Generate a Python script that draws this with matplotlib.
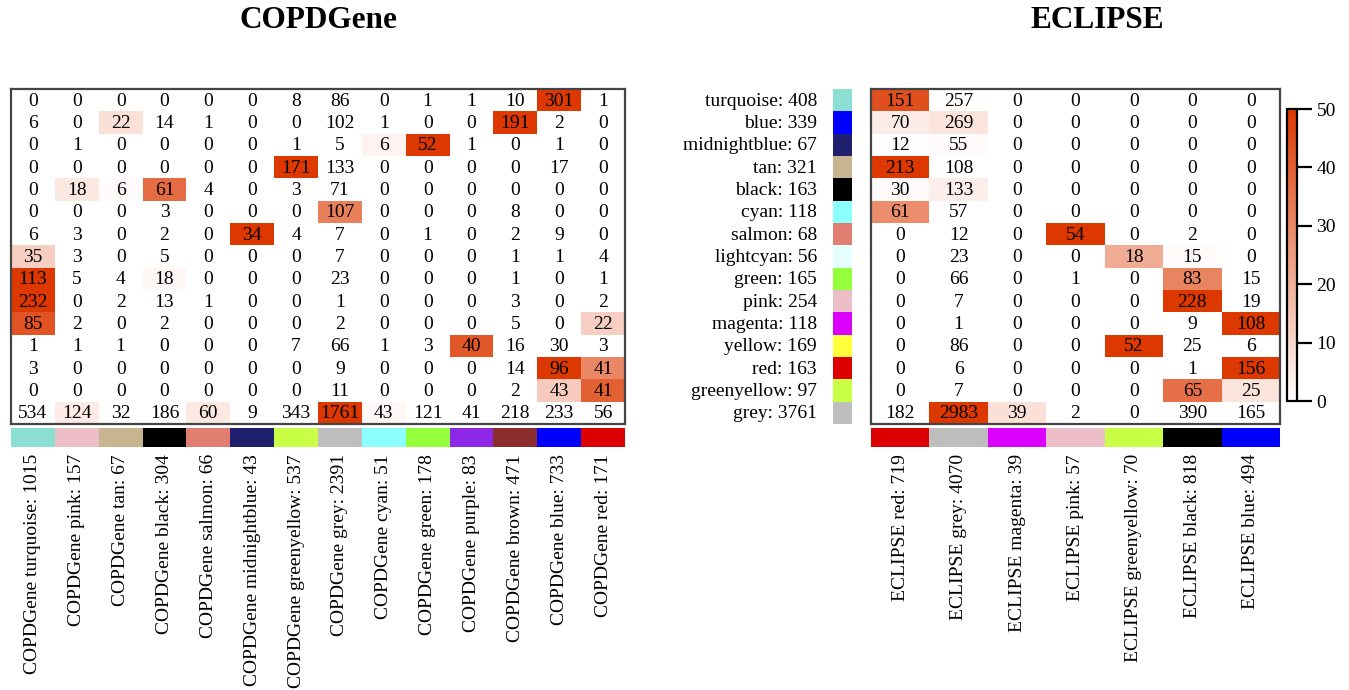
import numpy as np
import matplotlib
matplotlib.use("Agg")
import matplotlib.pyplot as plt
from matplotlib.colors import LinearSegmentedColormap, ListedColormap

plt.rcParams['font.family'] = ['Liberation Serif', 'DejaVu Serif']

# ECLIPSE modules (rows) with sizes and display colours
row_labels = ["turquoise: 408", "blue: 339", "midnightblue: 67", "tan: 321", "black: 163",
              "cyan: 118", "salmon: 68", "lightcyan: 56", "green: 165", "pink: 254",
              "magenta: 118", "yellow: 169", "red: 163", "greenyellow: 97", "grey: 3761"]
row_colors = ["#8ADFD2", "#0000FF", "#201E6E", "#C8B48E", "#000000",
              "#8CFFFF", "#E07E72", "#E6FFFF", "#96FF3C", "#ECBEC8",
              "#DC00FF", "#FFFF3C", "#DC0000", "#C8FF46", "#BEBEBE"]

# COPDGene modules (columns)
copd_labels = ["COPDGene turquoise: 1015", "COPDGene pink: 157", "COPDGene tan: 67",
               "COPDGene black: 304", "COPDGene salmon: 66", "COPDGene midnightblue: 43",
               "COPDGene greenyellow: 537", "COPDGene grey: 2391", "COPDGene cyan: 51",
               "COPDGene green: 178", "COPDGene purple: 83", "COPDGene brown: 471",
               "COPDGene blue: 733", "COPDGene red: 171"]
copd_colors = ["#8ADFD2", "#ECBEC8", "#C8B48E", "#000000", "#E07E72", "#201E6E",
               "#C8FF46", "#BEBEBE", "#8CFFFF", "#96FF3C", "#8C28E6", "#8C2D2D",
               "#0000FF", "#DC0000"]

# Overlap counts, ECLIPSE rows x COPDGene columns
copd_counts = [
    [0, 0, 0, 0, 0, 0, 8, 86, 0, 1, 1, 10, 301, 1],
    [6, 0, 22, 14, 1, 0, 0, 102, 1, 0, 0, 191, 2, 0],
    [0, 1, 0, 0, 0, 0, 1, 5, 6, 52, 1, 0, 1, 0],
    [0, 0, 0, 0, 0, 0, 171, 133, 0, 0, 0, 0, 17, 0],
    [0, 18, 6, 61, 4, 0, 3, 71, 0, 0, 0, 0, 0, 0],
    [0, 0, 0, 3, 0, 0, 0, 107, 0, 0, 0, 8, 0, 0],
    [6, 3, 0, 2, 0, 34, 4, 7, 0, 1, 0, 2, 9, 0],
    [35, 3, 0, 5, 0, 0, 0, 7, 0, 0, 0, 1, 1, 4],
    [113, 5, 4, 18, 0, 0, 0, 23, 0, 0, 0, 1, 0, 1],
    [232, 0, 2, 13, 1, 0, 0, 1, 0, 0, 0, 3, 0, 2],
    [85, 2, 0, 2, 0, 0, 0, 2, 0, 0, 0, 5, 0, 22],
    [1, 1, 1, 0, 0, 0, 7, 66, 1, 3, 40, 16, 30, 3],
    [3, 0, 0, 0, 0, 0, 0, 9, 0, 0, 0, 14, 96, 41],
    [0, 0, 0, 0, 0, 0, 0, 11, 0, 0, 0, 2, 43, 41],
    [534, 124, 32, 186, 60, 9, 343, 1761, 43, 121, 41, 218, 233, 56],
]

# Overlap significance scores (-log10 p, capped at 50) for cell shading
copd_scores = [
    [0, 0, 0, 0, 0, 0, 0, 0, 0, 0, 0, 0, 50, 0],
    [0, 0, 8, 0, 0, 0, 0, 0, 0, 0, 0, 50, 0, 0],
    [0, 0, 0, 0, 0, 0, 0, 0, 3, 50, 0, 0, 0, 0],
    [0, 0, 0, 0, 0, 0, 50, 0, 0, 0, 0, 0, 0, 0],
    [0, 6, 1, 37, 0, 0, 0, 0, 0, 0, 0, 0, 0, 0],
    [0, 0, 0, 0, 0, 0, 0, 32, 0, 0, 0, 0, 0, 0],
    [0, 0, 0, 0, 0, 50, 0, 0, 0, 0, 0, 0, 0, 0],
    [12, 0, 0, 0, 0, 0, 0, 0, 0, 0, 0, 0, 0, 0],
    [50, 0, 0, 2, 0, 0, 0, 0, 0, 0, 0, 0, 0, 0],
    [50, 0, 0, 0, 0, 0, 0, 0, 0, 0, 0, 0, 0, 0],
    [43, 0, 0, 0, 0, 0, 0, 0, 0, 0, 0, 0, 0, 12],
    [0, 0, 0, 0, 0, 0, 0, 0, 0, 0, 42, 0, 0, 0],
    [0, 0, 0, 0, 0, 0, 0, 0, 0, 0, 0, 0, 50, 30],
    [0, 0, 0, 0, 0, 0, 0, 0, 0, 0, 0, 0, 13, 40],
    [0, 5, 0, 0, 6, 0, 0, 50, 2, 0, 0, 0, 0, 0],
]

# ECLIPSE modules (columns)
ecl_labels = ["ECLIPSE red: 719", "ECLIPSE grey: 4070", "ECLIPSE magenta: 39",
              "ECLIPSE pink: 57", "ECLIPSE greenyellow: 70", "ECLIPSE black: 818",
              "ECLIPSE blue: 494"]
ecl_colors = ["#DC0000", "#BEBEBE", "#DC00FF", "#ECBEC8", "#C8FF46", "#000000", "#0000FF"]

ecl_counts = [
    [151, 257, 0, 0, 0, 0, 0],
    [70, 269, 0, 0, 0, 0, 0],
    [12, 55, 0, 0, 0, 0, 0],
    [213, 108, 0, 0, 0, 0, 0],
    [30, 133, 0, 0, 0, 0, 0],
    [61, 57, 0, 0, 0, 0, 0],
    [0, 12, 0, 54, 0, 2, 0],
    [0, 23, 0, 0, 18, 15, 0],
    [0, 66, 0, 1, 0, 83, 15],
    [0, 7, 0, 0, 0, 228, 19],
    [0, 1, 0, 0, 0, 9, 108],
    [0, 86, 0, 0, 52, 25, 6],
    [0, 6, 0, 0, 0, 1, 156],
    [0, 7, 0, 0, 0, 65, 25],
    [182, 2983, 39, 2, 0, 390, 165],
]

ecl_scores = [
    [44, 0, 0, 0, 0, 0, 0],
    [5, 7, 0, 0, 0, 0, 0],
    [0, 1, 0, 0, 0, 0, 0],
    [50, 0, 0, 0, 0, 0, 0],
    [1, 4, 0, 0, 0, 0, 0],
    [29, 0, 0, 0, 0, 0, 0],
    [0, 0, 0, 50, 0, 0, 0],
    [0, 0, 0, 0, 21, 1, 0],
    [0, 0, 0, 0, 0, 31, 0],
    [0, 0, 0, 0, 0, 50, 0],
    [0, 0, 0, 0, 0, 0, 50],
    [0, 0, 0, 0, 50, 0, 0],
    [0, 0, 0, 0, 0, 0, 50],
    [0, 0, 0, 0, 0, 36, 7],
    [0, 50, 8, 0, 0, 0, 0],
]

cbar_ticks = [0, 10, 20, 30, 40, 50]

W, H = 1349, 690
FS = 14
fig = plt.figure(figsize=(W / 100, H / 100), dpi=100)
cmap = LinearSegmentedColormap.from_list("wr", ["#FFFFFF", "#DC3800"])
VMAX = 50


def px_axes(x0, y0, x1, y1):
    return fig.add_axes([x0 / W, 1 - y1 / H, (x1 - x0) / W, (y1 - y0) / H])


def heatmap(ax, counts, scores):
    counts = np.array(counts)
    scores = np.array(scores, dtype=float)
    nr, nc = counts.shape
    mesh = ax.pcolormesh(np.arange(nc + 1), np.arange(nr + 1), scores,
                         cmap=cmap, vmin=0, vmax=VMAX)
    for i in range(nr):
        for j in range(nc):
            ax.text(j + 0.5, i + 0.55, str(counts[i, j]), ha="center", va="center",
                    fontsize=FS, color="black")
    ax.set_xlim(0, nc)
    ax.set_ylim(nr, 0)
    ax.set_xticks([])
    ax.set_yticks([])
    for s in ax.spines.values():
        s.set_color("#444444")
        s.set_linewidth(1.6)
    return mesh


def color_strip(ax, colors):
    n = len(colors)
    ax.pcolormesh(np.arange(n + 1), [0, 1], np.arange(n)[None, :],
                  cmap=ListedColormap(colors), vmin=-0.5, vmax=n - 0.5)
    ax.set_xlim(0, n)
    ax.set_ylim(0, 1)
    ax.axis("off")


# COPDGene panel
top, bot = 89, 424
row_h = (bot - top) / 15
ax1 = px_axes(11, top, 625, bot)
heatmap(ax1, copd_counts, copd_scores)
s1 = px_axes(11, 428, 625, 447)
color_strip(s1, copd_colors)
for j, lab in enumerate(copd_labels):
    ax1.text(j + 0.5, 15 + 30 / row_h, lab, rotation=90, ha="center", va="top",
             fontsize=FS, clip_on=False)

# ECLIPSE panel
ax2 = px_axes(871, top, 1280, bot)
mesh = heatmap(ax2, ecl_counts, ecl_scores)
s2 = px_axes(871, 428, 1280, 447)
color_strip(s2, ecl_colors)
for j, lab in enumerate(ecl_labels):
    ax2.text(j + 0.5, 15 + 30 / row_h, lab, rotation=90, ha="center", va="top",
             fontsize=FS, clip_on=False)

# ECLIPSE row swatches and labels
rs = px_axes(833, top, 852, bot)
nr = len(row_colors)
rs.pcolormesh([0, 1], np.arange(nr + 1), np.arange(nr)[:, None],
              cmap=ListedColormap(row_colors), vmin=-0.5, vmax=nr - 0.5)
rs.set_xlim(0, 1)
rs.set_ylim(nr, 0)
rs.axis("off")
for i, lab in enumerate(row_labels):
    rs.text(-16 / 19, i + 0.55, lab, ha="right", va="center", fontsize=FS, clip_on=False)

# Colour key
cax = px_axes(1287, 109, 1297, 401)
cb = fig.colorbar(mesh, cax=cax, ticks=cbar_ticks)
cb.outline.set_linewidth(1.6)
cb.outline.set_edgecolor("black")
cax.tick_params(length=11, width=1.6, labelsize=FS, pad=3, color="black")

fig.text(318 / W, 1 - 21 / H, "COPDGene", ha="center", va="center",
         fontsize=22.5, fontweight="bold")
fig.text(1097 / W, 1 - 21 / H, "ECLIPSE", ha="center", va="center",
         fontsize=22.5, fontweight="bold")

fig.savefig("out.png", dpi=100, facecolor="white")
